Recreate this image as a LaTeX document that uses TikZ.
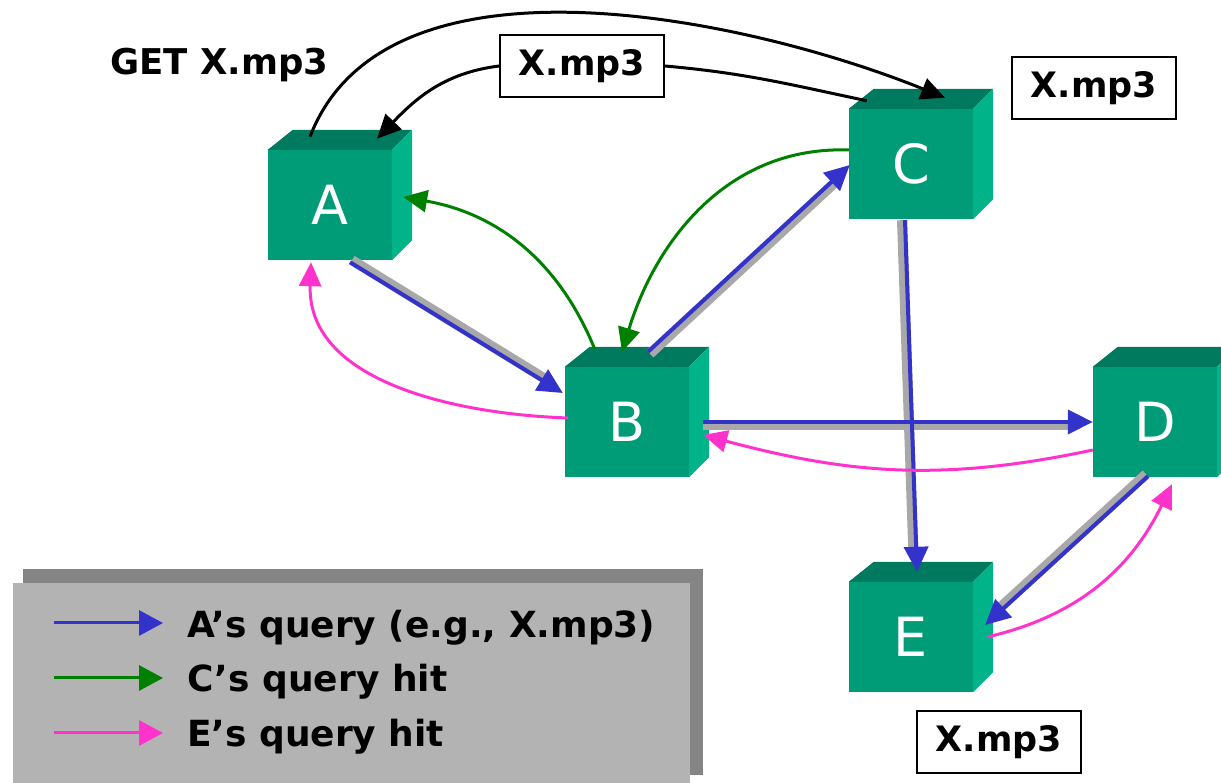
\documentclass[tikz,border=0pt]{standalone}
\usepackage{fontspec}
\setmainfont{DejaVu Sans}
\usetikzlibrary{arrows.meta,calc}

\definecolor{cubefront}{HTML}{009B77}
\definecolor{cubetop}{HTML}{007A5E}
\definecolor{cubeside}{HTML}{00B388}
\definecolor{qblue}{HTML}{3333CC}
\definecolor{qgreen}{HTML}{008000}
\definecolor{qpink}{HTML}{FF33CC}
\definecolor{halo}{HTML}{A8A8A8}
\definecolor{legendbg}{HTML}{B3B3B3}
\definecolor{legendshadow}{HTML}{858585}

\begin{document}
\begin{tikzpicture}[x=1pt,y=1pt,
  cube/.style={rectangle, minimum width=124pt, minimum height=110pt, inner sep=0pt,
    fill=cubefront, text=white, font=\fontsize{54}{60}\selectfont},
  xbox/.style={draw=black, line width=1.5pt, fill=white, minimum width=164pt,
    minimum height=62pt, inner sep=0pt, font=\bfseries\fontsize{35}{40}\selectfont},
  bigtip/.style={-{Triangle[length=25pt,width=24pt]}},
  smalltip/.style={-{Triangle[length=24pt,width=22pt]}},
  blackarc/.style={draw=black, line width=3pt, smalltip},
  query/.style={draw=qblue, line width=4pt, bigtip},
  halotrail/.style={draw=halo, line width=10pt, shorten >=22pt},
  greenhit/.style={draw=qgreen, line width=3pt, smalltip},
  pinkhit/.style={draw=qpink, line width=3pt, smalltip},
  legendtext/.style={anchor=base west, inner sep=0pt, font=\bfseries\fontsize{36}{40}\selectfont},
  legendarrow/.style={line width=3pt, -{Triangle[length=24pt,width=25pt]}}
]
\useasboundingbox (0,0) rectangle (1221,783);

% legend panel with its drop shadow
\fill[legendshadow] (23,214) rectangle (703,8);
\fill[legendbg] (13,200) rectangle (690,-20);
\coordinate (la) at (54,160);  \coordinate (lae) at (163,160);
\coordinate (lc) at (54,105);  \coordinate (lce) at (163,105);
\coordinate (le) at (54,50);   \coordinate (lee) at (163,50);
\draw[legendarrow, qblue] (la) -- (lae);
\draw[legendarrow, qgreen] (lc) -- (lce);
\draw[legendarrow, qpink] (le) -- (lee);
\node[legendtext] (ta) at (187,145) {A’s query (e.g., X.mp3)};
\node[legendtext] (tc) at (187,91) {C’s query hit};
\node[legendtext] (te) at (187,36) {E’s query hit};

% peers drawn as cubes: front face node plus top and side faces
\node[cube] (A) at (330,578) {A};
\node[cube] (B) at (627,361) {B};
\node[cube] (C) at (911,619) {C};
\node[cube] (D) at (1155,361) {D};
\node[cube] (E) at (911,146) {E};
\foreach \p in {A,B,C,D,E}{
  \fill[cubetop] (\p.north west) -- ++(25,20) -- ($(\p.north east)+(20,20)$) -- (\p.north east) -- cycle;
  \fill[cubeside] (\p.north east) -- ++(20,20) -- ($(\p.south east)+(20,20)$) -- (\p.south east) -- cycle;
}

% file labels
\node[xbox] (xc) at (1094,695) {X.mp3};
\node[xbox] (xe) at (999,41) {X.mp3};
\node[xbox] (xa) at (582,717) {X.mp3};
\node[anchor=base west, inner sep=0pt, font=\bfseries\fontsize{35.5}{40}\selectfont] (get) at (110,708) {GET X.mp3};

% query flooding (A's query)
\coordinate (ab1) at ($(A.south)+(20,-2)$);  \coordinate (ab2) at ($(B.west)+(-2,29)$);
\coordinate (bc1) at ($(B.north)+(21,15)$);  \coordinate (bc2) at ($(C.west)+(1,-1)$);
\coordinate (bd1) at ($(B.east)+(14,0)$);    \coordinate (bd2) at (D.west);
\coordinate (ce1) at ($(C.south)+(-6,-1)$);  \coordinate (ce2) at ($(E.north)+(6,10)$);
\coordinate (de1) at ($(D.south)+(-7,1)$);   \coordinate (de2) at ($(E.east)+(12,12)$);
\draw[halotrail, transform canvas={shift={(2pt,2pt)}}] (ab1) -- (ab2);
\draw[halotrail, transform canvas={shift={(2pt,-2pt)}}] (bc1) -- (bc2);
\draw[halotrail, transform canvas={shift={(0pt,-3pt)}}] (bd1) -- (bd2);
\draw[halotrail, transform canvas={shift={(-3pt,0pt)}}] (ce1) -- (ce2);
\draw[halotrail, transform canvas={shift={(-2pt,2pt)}}] (de1) -- (de2);
\draw[query] (ab1) -- (ab2);
\draw[query] (bc1) -- (bc2);
\draw[query] (bd1) -- (bd2);
\draw[query] (ce1) -- (ce2);
\draw[query] (de1) -- (de2);

% C's query hit
\draw[greenhit] ($(C.west)+(0,14)$) to[out=178,in=73] ($(B.north)+(-5,15)$);
\draw[greenhit] ($(B.north)+(-32,17)$) to[out=112,in=-10] ($(A.east)+(11,8)$);

% E's query hit
\draw[pinkhit] ($(E.east)+(14,0)$) to[out=13,in=-116] ($(D.south)+(17,-7)$);
\draw[pinkhit] ($(D.west)+(0,-28)$) to[out=192,in=-15] ($(B.east)+(14,-13)$);
\draw[pinkhit] ($(B.west)+(3,4)$) to[out=178,in=-92] ($(A.south)+(-19,-2)$);

% direct download from C
\draw[blackarc] ($(A.north)+(-20,13)$) to[out=69,in=158,looseness=0.85] ($(C.north)+(34,11)$);
\draw[line width=3pt] ($(C.north west)+(18,8)$) to[out=168,in=-5] (xa.east);
\draw[blackarc] (xa.west) to[out=187,in=46] ($(A.north)+(47,11)$);
\end{tikzpicture}
\end{document}
